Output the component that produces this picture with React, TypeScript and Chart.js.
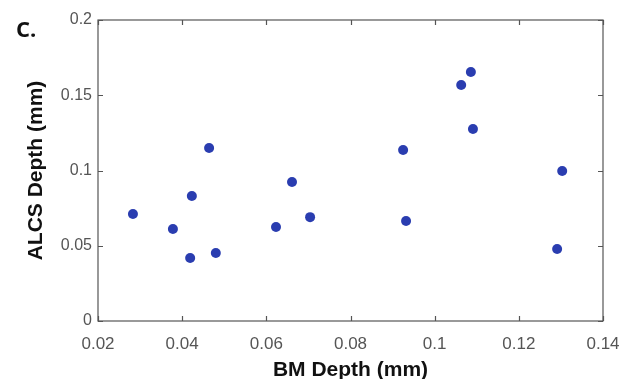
import React, { useEffect, useRef } from "react";
import { Chart, registerables } from "chart.js";

Chart.register(...registerables);

const bmDepth = [0.0283, 0.0378, 0.0423, 0.0419, 0.048, 0.0464, 0.0623, 0.0661, 0.0704, 0.0925, 0.0932, 0.1063, 0.1086, 0.1091, 0.1291, 0.1303];
const alcsDepth = [0.0711, 0.0611, 0.083, 0.0419, 0.0452, 0.115, 0.0625, 0.0923, 0.069, 0.1136, 0.0664, 0.1568, 0.1654, 0.1276, 0.0478, 0.0997];
const xTitle = "BM Depth (mm)";
const yTitle = "ALCS Depth (mm)";
const panelLabel = "C.";

const fmt = (v: number) => String(Number(Number(v).toFixed(3)));

const frame = {
  id: "frame",
  afterDatasetsDraw(chart: any) {
    const { ctx, chartArea: a, scales } = chart;
    ctx.save();
    ctx.strokeStyle = "#555";
    ctx.lineWidth = 1.2;
    ctx.strokeRect(a.left, a.top, a.right - a.left, a.bottom - a.top);
    const len = 5;
    ctx.beginPath();
    scales.x.ticks.forEach((t: any) => {
      const px = Math.round(scales.x.getPixelForValue(t.value)) + 0.5;
      ctx.moveTo(px, a.bottom); ctx.lineTo(px, a.bottom - len);
      ctx.moveTo(px, a.top); ctx.lineTo(px, a.top + len);
    });
    scales.y.ticks.forEach((t: any) => {
      const py = Math.round(scales.y.getPixelForValue(t.value)) + 0.5;
      ctx.moveTo(a.left, py); ctx.lineTo(a.left + len, py);
      ctx.moveTo(a.right, py); ctx.lineTo(a.right - len, py);
    });
    ctx.stroke();
    ctx.fillStyle = "#111";
    ctx.font = "bold 22px 'Open Sans', Lato, sans-serif";
    ctx.textBaseline = "alphabetic";
    ctx.textAlign = "left";
    ctx.fillText(panelLabel, 16, 37);
    ctx.restore();
  },
};

export default function App() {
  const ref = useRef<HTMLCanvasElement>(null);
  useEffect(() => {
    const chart = new Chart(ref.current!, {
      type: "scatter",
      data: {
        datasets: [
          {
            data: bmDepth.map((x, i) => ({ x, y: alcsDepth[i] })),
            backgroundColor: "#2a3db0",
            borderColor: "#2a3db0",
            pointRadius: 5,
            pointHoverRadius: 5,
            borderWidth: 0,
          },
        ],
      },
      options: {
        animation: false,
        responsive: false,
        maintainAspectRatio: false,
        layout: { padding: { left: 0, top: 20, right: 31, bottom: 0 } },
        plugins: { legend: { display: false }, tooltip: { enabled: false } },
        scales: {
          x: {
            type: "linear",
            min: 0.02,
            max: 0.14,
            grid: { display: false, drawTicks: false },
            border: { display: false },
            ticks: {
              stepSize: 0.02,
              padding: 13,
              color: "#555",
              font: { family: "'Liberation Sans', Arial, sans-serif", size: 17 },
              callback: (v: any) => fmt(v),
              maxRotation: 0,
            },
            title: {
              display: true,
              text: xTitle,
              color: "#111",
              font: { family: "'Liberation Sans', Arial, sans-serif", size: 21, weight: "bold", lineHeight: 1 },
              padding: { top: 0, bottom: -2 },
            },
            afterFit: (s: any) => { s.height = 58; },
          },
          y: {
            type: "linear",
            min: 0,
            max: 0.2,
            grid: { display: false, drawTicks: false },
            border: { display: false },
            ticks: {
              stepSize: 0.05,
              padding: 6,
              color: "#555",
              font: { family: "'Liberation Sans', Arial, sans-serif", size: 16 },
              callback: (v: any) => fmt(v),
            },
            title: {
              display: true,
              text: yTitle,
              color: "#111",
              font: { family: "'Liberation Sans', Arial, sans-serif", size: 21, weight: "bold", lineHeight: 1 },
              padding: { top: 26, bottom: 0 },
            },
            afterFit: (s: any) => { s.width = 98; },
          },
        },
      },
      plugins: [frame],
    } as any);
    return () => chart.destroy();
  }, []);
  return (
    <div style={{ position: "fixed", left: 0, top: 0, width: 634, height: 379, background: "#fff" }}>
      <canvas ref={ref} width={634} height={379} style={{ display: "block", width: 634, height: 379 }} />
    </div>
  );
}
